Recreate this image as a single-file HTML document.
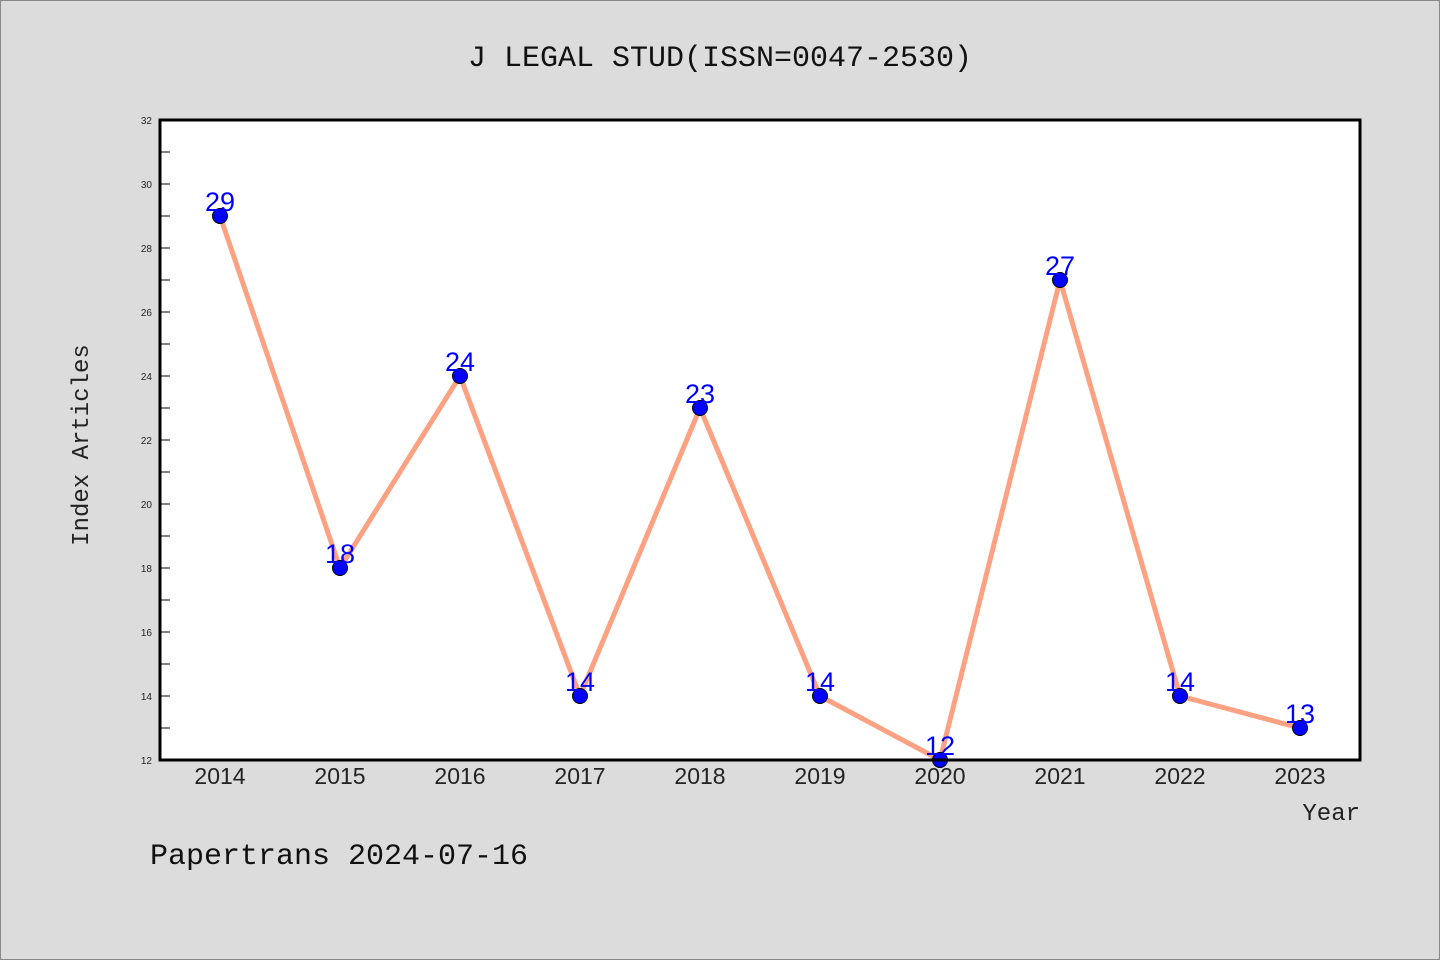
<!DOCTYPE html>
<html><head><meta charset="utf-8"><style>
html,body{margin:0;padding:0;background:#dcdcdc;}
svg{display:block;}
</style></head><body>
<svg id="chart" width="1440" height="960" xmlns="http://www.w3.org/2000/svg">
<rect x="0.5" y="0.5" width="1439" height="959" fill="#dcdcdc" stroke="#888" stroke-width="1"/>
<text x="720" y="66" text-anchor="middle" font-family="'Liberation Mono','WenQuanYi Zen Hei',monospace" font-size="30" fill="#111">J LEGAL STUD(ISSN=0047-2530)</text>
<rect x="160" y="120" width="1200" height="640" fill="#fff"/>
<g id="ticks"></g>
<g id="series"></g>
<rect x="160" y="120" width="1200" height="640" fill="none" stroke="#000" stroke-width="3"/>
<text transform="translate(88,445) rotate(-90)" text-anchor="middle" font-family="'Liberation Mono','WenQuanYi Zen Hei',monospace" font-size="24" fill="#222">Index Articles</text>
<text x="1360" y="820" text-anchor="end" font-family="'Liberation Mono','WenQuanYi Zen Hei',monospace" font-size="24" fill="#222">Year</text>
<text x="150" y="864" font-family="'Liberation Mono','WenQuanYi Zen Hei',monospace" font-size="30" fill="#111">Papertrans 2024-07-16</text>
</svg>
<script>
const categories=["2014","2015","2016","2017","2018","2019","2020","2021","2022","2023"];
const values=[29,18,24,14,23,14,12,27,14,13];
const yTickLabels=[12,14,16,18,20,22,24,26,28,30,32];
const NS="http://www.w3.org/2000/svg";
const yMin=12,yMax=32,plotTop=120,plotBottom=760;
function y(v){return plotBottom-(v-yMin)/(yMax-yMin)*(plotBottom-plotTop);}
function x(i){return 220+i*120;}
function mk(t,a,p){const e=document.createElementNS(NS,t);for(const k in a)e.setAttribute(k,a[k]);p.appendChild(e);return e;}
const tg=document.getElementById('ticks'),sg=document.getElementById('series');
for(let v=yMin;v<=yMax;v++){
 const l=mk('line',{x1:160,x2:170,y1:y(v),y2:y(v),stroke:'#000','stroke-width':1},tg);
 
 
}
yTickLabels.forEach(v=>{
 const t=mk('text',{x:152,y:y(v)+4,'text-anchor':'end','font-family':'Liberation Sans,sans-serif','font-size':10,fill:'#222'},tg);
 t.textContent=v;
 
 
});
categories.forEach((c,i)=>{
 const t=mk('text',{x:x(i),y:784,'text-anchor':'middle','font-family':'Liberation Sans,sans-serif','font-size':23,fill:'#222'},tg);
 t.textContent=c;
 
 
});
const pl=mk('polyline',{points:values.map((v,i)=>x(i)+','+y(v)).join(' '),fill:'none',stroke:'#fca282','stroke-width':5,'stroke-linejoin':'round'},sg);


values.forEach((v,i)=>{
 const c=mk('circle',{cx:x(i),cy:y(v),r:7.5,fill:'#0000ff',stroke:'#000','stroke-width':1},sg);
 
 
});
values.forEach((v,i)=>{
 const t=mk('text',{x:x(i),y:y(v)-5,'text-anchor':'middle','font-family':'Liberation Sans,sans-serif','font-size':27,fill:'#0000ff'},sg);
 t.textContent=v;
 
 
});
</script>
</body></html>
